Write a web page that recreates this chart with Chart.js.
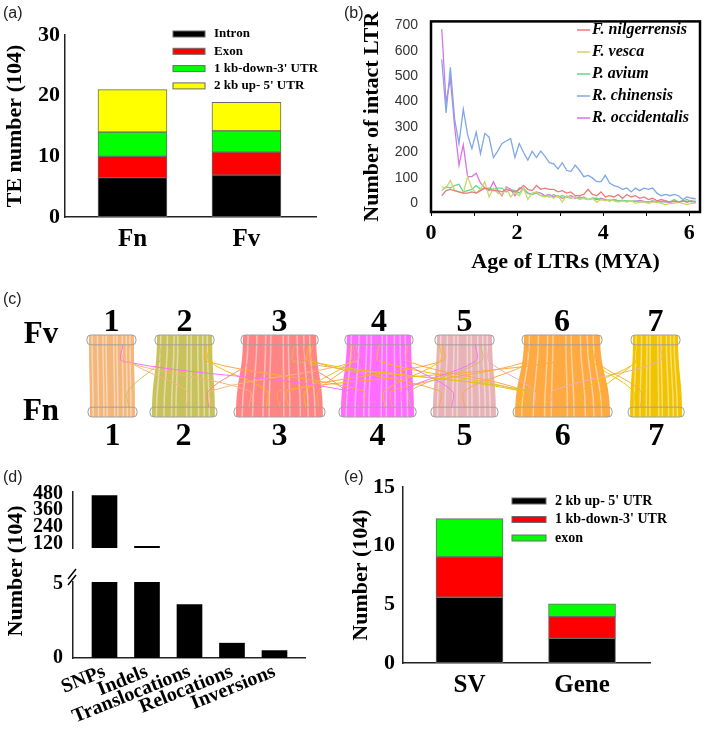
<!DOCTYPE html>
<html>
<head>
<meta charset="utf-8">
<title>TE, LTR, synteny and variant summary</title>
<script src="https://cdn.jsdelivr.net/npm/chart.js@4.4.1/dist/chart.umd.min.js"></script>
<style>
  body { margin: 0; background: #fff; }
  #page { position: relative; width: 709px; height: 732px; overflow: hidden; }
  canvas { position: absolute; }
  .tag { position: absolute; font: 16px 'Liberation Sans', Arial, sans-serif; color: #222; }
  .ytitle { position: absolute; font: bold 22px 'Liberation Serif', 'Times New Roman', serif; white-space: nowrap; transform: translate(-50%, -50%) rotate(-90deg); }
</style>
</head>
<body>
<div id="page">
  <canvas id="te-chart" width="330" height="262" style="left:0;top:0"></canvas>
  <canvas id="ltr-chart" width="359" height="285" style="left:350px;top:0"></canvas>
  <canvas id="synteny-chart" width="709" height="170" style="left:0;top:285px"></canvas>
  <canvas id="var-upper" width="330" height="100" style="left:0;top:470px"></canvas>
  <canvas id="var-lower" width="330" height="172" style="left:0;top:560px"></canvas>
  <canvas id="region-chart" width="359" height="292" style="left:350px;top:440px"></canvas>
  <div class="tag" style="left:3px;top:4px">(a)</div>
  <div class="tag" style="left:344px;top:4px">(b)</div>
  <div class="tag" style="left:3px;top:290px">(c)</div>
  <div class="tag" style="left:3px;top:468px">(d)</div>
  <div class="tag" style="left:344px;top:468px">(e)</div>
  <div class="ytitle" style="left:15px;top:571px">Number (104)</div>
</div>
<script>
const SERIF = "'Liberation Serif', 'Times New Roman', serif";

// (a) TE counts (x10^4)
const teGroups = ['Fn', 'Fv'];
const teIntron = [6.5, 6.9];
const teExon = [3.5, 3.8];
const teDown3 = [4.0, 3.5];
const teUp5 = [7.0, 4.7];
const teTicks = [0, 10, 20, 30];

// (b) LTR insertion age
const ageMya = [
  0.25, 0.35, 0.45, 0.55, 0.65, 0.75, 0.85, 0.95, 1.05, 1.15,
  1.25, 1.35, 1.45, 1.55, 1.65, 1.75, 1.85, 1.95, 2.05, 2.15,
  2.25, 2.35, 2.45, 2.55, 2.65, 2.75, 2.85, 2.95, 3.05, 3.15,
  3.25, 3.35, 3.45, 3.55, 3.65, 3.75, 3.85, 3.95, 4.05, 4.15,
  4.25, 4.35, 4.45, 4.55, 4.65, 4.75, 4.85, 4.95, 5.05, 5.15,
  5.25, 5.35, 5.45, 5.55, 5.65, 5.75, 5.85, 5.95, 6.05, 6.15
];
const ltrNilgerrensis = [
  30, 50, 55, 50, 45, 40, 40, 45, 40, 50,
  60, 55, 50, 50, 45, 55, 50, 45, 55, 70,
  55, 50, 70, 55, 60, 55, 55, 45, 50, 40,
  45, 30, 30, 35, 55, 35, 30, 45, 25, 30,
  25, 35, 20, 35, 25, 30, 20, 25, 15, 20,
  10, 15, 10, 5, 10, 5, 10, 5, 10, 5
];
const ltrVesca = [
  65, 60, 90, 50, 45, 40, 105, 60, 40, 55,
  85, 25, 60, 40, 35, 60, 25, 45, 30, 60,
  15, 40, 45, 30, 25, 30, 20, 30, 5, 30,
  20, 25, 15, 20, 15, 20, 5, 15, 10, 15,
  10, 5, 10, 5, 10, 0, 5, 5, 0, 5,
  5, 0, -5, 0, 0, 5, 0, -5, 0, 0
];
const ltrAvium = [
  50, 65, 60, 70, 75, 45, 50, 55, 70, 55,
  60, 60, 55, 60, 60, 45, 55, 50, 40, 60,
  40, 35, 40, 30, 30, 25, 35, 25, 30, 25,
  20, 25, 20, 25, 15, 20, 20, 15, 15, 10,
  15, 10, 12, 10, 8, 10, 5, 8, 5, 10,
  5, 5, 10, 5, 15, 5, 10, 15, 5, 10
];
const ltrChinensis = [
  565, 355, 535, 330, 235, 370, 270, 215, 280, 195,
  275, 260, 180, 205, 235, 245, 255, 180, 235, 200,
  170, 205, 180, 205, 185, 160, 155, 135, 160, 130,
  125, 150, 130, 105, 110, 100, 85, 85, 110, 80,
  70, 65, 55, 60, 45, 60, 50, 60, 55, 60,
  40, 30, 35, 30, 35, 30, 15, 25, 20, 18
];
const ltrOccidentalis = [
  685, 395, 490, 300, 150, 230, 105, 105, 118, 80,
  60, 50, 85, 50, 30, 65, 55, 30, 60, 55,
  40, 35, 45, 40, 30, 35, 25, 30, 20, 25,
  30, 20, 25, 20, 15, 20, 15, 20, 15, 10,
  15, 10, 12, 8, 10, 8, 12, 8, 5, 10,
  5, 8, 5, 5, 8, 5, 10, 5, 10, 5
];
const ltrYTicks = [0, 100, 200, 300, 400, 500, 600, 700];
const ltrXTicks = [0, 1, 2, 3, 4, 5, 6];

// (c) chromosome blocks (Mb on a shared layout axis) and cross links
const chrNames = ['1', '2', '3', '4', '5', '6', '7'];
const chrColors = ['#f4b67a', '#c9c25c', '#ff8585', '#ff6cff', '#e8b3b6', '#ffa942', '#f2c300'];
const fvStartMb = [0, 37.8, 85.6, 143.3, 193.3, 241.7, 302.2];
const fvLenMb = [25, 30.6, 40.6, 35.6, 30.6, 42.2, 25];
const fnStartMb = [0.6, 35, 81.7, 140, 191.1, 236.7, 300.6];
const fnLenMb = [25, 35, 48.3, 40.6, 35, 52.8, 28.9];
const stripeFrac = [0.07, 0.19, 0.31, 0.38, 0.55, 0.62, 0.74, 0.83, 0.91];
const linkFvChr = [0, 0, 0, 1, 1, 1, 2, 2, 2, 2, 2, 3, 3, 3, 3, 3, 4, 4, 4, 4, 4, 5, 5, 5, 5, 6, 6, 6, 5, 3];
const linkFvPos = [0.80, 0.90, 0.75, 0.05, 0.95, 0.90, 0.10, 0.85, 0.95, 0.90, 0.70, 0.05, 0.10, 0.15, 0.90,
                   0.95, 0.05, 0.10, 0.70, 0.80, 0.95, 0.05, 0.10, 0.50, 0.90, 0.05, 0.10, 0.60, 0.95, 0.50];
const linkFnChr = [2, 1, 3, 0, 2, 3, 1, 3, 4, 5, 5, 2, 2, 1, 4, 5, 3, 2, 3, 3, 5, 3, 4, 2, 6, 5, 5, 5, 6, 5];
const linkFnPos = [0.15, 0.55, 0.10, 0.85, 0.35, 0.30, 0.90, 0.05, 0.10, 0.05, 0.15, 0.80, 0.95, 0.95, 0.30,
                   0.10, 0.60, 0.60, 0.85, 0.95, 0.20, 0.70, 0.50, 0.50, 0.05, 0.90, 0.70, 0.40, 0.20, 0.05];
const linkColor = [0, 0, 3, 1, 6, 5, 2, 2, 5, 6, 1, 6, 5, 0, 3, 5, 6, 5, 3, 1, 4, 5, 5, 5, 6, 6, 6, 4, 5, 6];

// (d) variant counts (x10^4)
const varTypes = ['SNPs', 'Indels', 'Translocations', 'Relocations', 'Inversions'];
const varCounts = [465, 101, 3.6, 1.0, 0.5];
const varUpperTicks = [120, 240, 360, 480];
const varLowerTicks = [0, 5];

// (e) SV / gene region counts (x10^4)
const regionGroups = ['SV', 'Gene'];
const regionUp5 = [5.6, 2.1];
const regionDown3 = [3.45, 1.85];
const regionExon = [3.25, 1.1];
const regionTicks = [0, 5, 10, 15];

Chart.defaults.font.family = SERIF;
Chart.defaults.color = '#000';
Chart.defaults.animation = false;
Chart.defaults.responsive = false;
Chart.defaults.plugins.legend.display = false;
Chart.defaults.plugins.tooltip.enabled = false;

const toPoints = vals => vals.map((y, i) => ({ x: i, y }));
const fixTicks = values => scale => { scale.ticks = values.map(v => ({ value: v })); };
const fixWidth = w => scale => { scale.width = w; };
const fixHeight = h => scale => { scale.height = h; };
const axisBorder = { color: '#222', width: 1.5 };
const noGrid = { display: false, drawTicks: false, offset: false };

// legend drawn at a fixed spot inside the panel
const swatchLegend = {
  id: 'swatchLegend',
  afterDraw(chart, args, opts) {
    if (opts.x === undefined) return;
    const ctx = chart.ctx;
    ctx.save();
    ctx.font = opts.font;
    ctx.textBaseline = 'middle';
    chart.data.datasets.forEach((ds, i) => {
      const y = opts.y + i * opts.dy;
      if (opts.kind === 'line') {
        ctx.strokeStyle = ds.borderColor;
        ctx.lineWidth = 1.5;
        ctx.beginPath();
        ctx.moveTo(opts.x, y);
        ctx.lineTo(opts.x + opts.w, y);
        ctx.stroke();
      } else {
        ctx.fillStyle = ds.backgroundColor;
        ctx.fillRect(opts.x, y - opts.h / 2, opts.w, opts.h);
        ctx.strokeStyle = '#6b6b6b';
        ctx.lineWidth = 1;
        ctx.strokeRect(opts.x, y - opts.h / 2, opts.w, opts.h);
      }
      ctx.fillStyle = '#000';
      ctx.fillText(ds.label, opts.textX, y);
    });
    ctx.restore();
  }
};

const plotFrame = {
  id: 'plotFrame',
  afterDraw(chart) {
    const { ctx, chartArea: a } = chart;
    ctx.save();
    ctx.strokeStyle = '#000';
    ctx.lineWidth = 2.5;
    ctx.strokeRect(a.left, a.top, a.right - a.left, a.bottom - a.top);
    ctx.restore();
  }
};

function stackedBarOptions(cfg) {
  return {
    layout: { padding: { top: cfg.top, right: cfg.right } },
    scales: {
      x: {
        type: 'linear', stacked: true, offset: false, min: cfg.xMin, max: cfg.xMax,
        afterBuildTicks: fixTicks(cfg.groups.map((g, i) => i)),
        afterFit: fixHeight(cfg.xHeight),
        grid: noGrid, border: axisBorder,
        ticks: { callback: v => cfg.groups[v], font: { size: 25, weight: 'bold' }, padding: 8, autoSkip: false }
      },
      y: {
        stacked: true, min: 0, max: cfg.yMax,
        afterBuildTicks: fixTicks(cfg.yTicks),
        afterFit: fixWidth(cfg.yWidth),
        grid: noGrid, border: axisBorder,
        ticks: { font: { size: 22, weight: 'bold' }, padding: cfg.tickPad, autoSkip: false },
        title: { display: true, text: cfg.title, font: { size: 22, weight: 'bold', lineHeight: 1 }, padding: { top: cfg.titlePad } }
      }
    },
    plugins: { swatchLegend: cfg.legend }
  };
}

const barStyle = thickness => ds => ({ ...ds, borderColor: '#6b6b6b', borderWidth: 1, barThickness: thickness, borderSkipped: false });

// (a)
new Chart(document.getElementById('te-chart'), {
  type: 'bar',
  data: {
    datasets: [
      { label: 'Intron', data: toPoints(teIntron), backgroundColor: '#000000' },
      { label: 'Exon', data: toPoints(teExon), backgroundColor: '#ff0000' },
      { label: "1 kb-down-3' UTR", data: toPoints(teDown3), backgroundColor: '#00ff00' },
      { label: "2 kb up- 5' UTR", data: toPoints(teUp5), backgroundColor: '#ffff00' }
    ].map(barStyle(69))
  },
  options: stackedBarOptions({
    top: 35, right: 14, xMin: -0.592, xMax: 1.61, groups: teGroups, xHeight: 45,
    yMax: 30, yTicks: teTicks, yWidth: 65, tickPad: 5, title: 'TE number (104)', titlePad: 4,
    legend: { x: 173, y: 34, dy: 17.3, w: 32, h: 6, textX: 214, font: 'bold 13px ' + SERIF }
  }),
  plugins: [swatchLegend]
});

// (b)
const ltrSeries = [
  ['F. nilgerrensis', ltrNilgerrensis, '#ec7b7b'],
  ['F. vesca', ltrVesca, '#cdd768'],
  ['P. avium', ltrAvium, '#62d98f'],
  ['R. chinensis', ltrChinensis, '#7ea8e6'],
  ['R. occidentalis', ltrOccidentalis, '#d874e8']
];
new Chart(document.getElementById('ltr-chart'), {
  type: 'line',
  data: {
    datasets: ltrSeries.map(([label, vals, color]) => ({
      label,
      data: ageMya.map((x, i) => ({ x, y: vals[i] })),
      borderColor: color, borderWidth: 1.3, pointRadius: 0, tension: 0
    }))
  },
  options: {
    layout: { padding: { top: 14, right: 9 } },
    scales: {
      x: {
        type: 'linear', min: 0, max: 6.25,
        afterBuildTicks: fixTicks(ltrXTicks), afterFit: fixHeight(73),
        grid: { drawOnChartArea: false, tickLength: 4, color: '#000' },
        border: { display: false },
        ticks: { callback: v => (v % 2 === 0 ? String(v) : ''), font: { size: 22, weight: 'bold' }, padding: 4, autoSkip: false },
        title: { display: true, text: 'Age of LTRs (MYA)', font: { size: 22, weight: 'bold', lineHeight: 1 }, padding: { bottom: 12 } }
      },
      y: {
        min: -34, max: 715,
        afterBuildTicks: fixTicks(ltrYTicks), afterFit: fixWidth(81),
        grid: noGrid, border: { display: false },
        ticks: { font: { family: "'Liberation Sans Narrow', 'Liberation Sans', sans-serif", size: 14 }, color: '#333', padding: 13, autoSkip: false },
        title: { display: true, text: 'Number of intact LTR', font: { size: 22, weight: 'bold', lineHeight: 1 }, padding: { top: 11 } }
      }
    },
    plugins: { swatchLegend: { kind: 'line', x: 227, y: 30, dy: 22, w: 13, textX: 242, font: 'italic bold 16px ' + SERIF } }
  },
  plugins: [plotFrame, swatchLegend]
});

// (c)
const syntenyPlot = {
  id: 'syntenyPlot',
  beforeDatasetsDraw(chart) {
    const { ctx, scales: { x, y } } = chart;
    const yt = y.getPixelForValue(1), yb = y.getPixelForValue(0), ym = y.getPixelForValue(0.5);
    ctx.save();
    chrNames.forEach((name, i) => {
      const a1 = x.getPixelForValue(fvStartMb[i]), a2 = x.getPixelForValue(fvStartMb[i] + fvLenMb[i]);
      const b1 = x.getPixelForValue(fnStartMb[i]), b2 = x.getPixelForValue(fnStartMb[i] + fnLenMb[i]);
      ctx.beginPath();
      ctx.moveTo(a1, yt);
      ctx.lineTo(a2, yt);
      ctx.bezierCurveTo(a2, ym, b2, ym, b2, yb);
      ctx.lineTo(b1, yb);
      ctx.bezierCurveTo(b1, ym, a1, ym, a1, yt);
      ctx.closePath();
      ctx.fillStyle = chrColors[i];
      ctx.fill();
      // lighter gaps between collinear blocks
      ctx.strokeStyle = 'rgba(255,255,255,0.45)';
      ctx.lineWidth = 1.5;
      stripeFrac.forEach(f => {
        const a = a1 + (a2 - a1) * f, b = b1 + (b2 - b1) * f;
        ctx.beginPath();
        ctx.moveTo(a, yt);
        ctx.bezierCurveTo(a, ym, b, ym, b, yb);
        ctx.stroke();
      });
    });
    ctx.restore();
  },
  afterDraw(chart) {
    const { ctx, scales: { x, y } } = chart;
    const yt = y.getPixelForValue(1), yb = y.getPixelForValue(0);
    ctx.save();
    ctx.strokeStyle = '#a0a0a0';
    ctx.lineWidth = 1;
    const bar = (l, r, top, bottom) => {
      ctx.beginPath();
      ctx.roundRect(l - 2, top, r - l + 4, bottom - top, 4);
      ctx.stroke();
    };
    chrNames.forEach((name, i) => {
      bar(x.getPixelForValue(fvStartMb[i]), x.getPixelForValue(fvStartMb[i] + fvLenMb[i]), yt, y.getPixelForValue(0.88));
      bar(x.getPixelForValue(fnStartMb[i]), x.getPixelForValue(fnStartMb[i] + fnLenMb[i]), y.getPixelForValue(0.12), yb);
    });
    ctx.fillStyle = '#000';
    ctx.textAlign = 'center';
    ctx.textBaseline = 'alphabetic';
    ctx.font = 'bold 32px ' + SERIF;
    chrNames.forEach((name, i) => {
      ctx.fillText(name, x.getPixelForValue(fvStartMb[i] + fvLenMb[i] / 2), yt - 4);
      ctx.fillText(name, x.getPixelForValue(fnStartMb[i] + fnLenMb[i] / 2), yb + 28);
    });
    ctx.font = 'bold 31px ' + SERIF;
    ctx.fillText('Fv', 41, yt + 8);
    ctx.fillText('Fn', 41, yb + 3);
    ctx.restore();
  }
};
new Chart(document.getElementById('synteny-chart'), {
  type: 'line',
  data: {
    datasets: linkFvChr.map((c, k) => {
      const a = fvStartMb[c] + fvLenMb[c] * linkFvPos[k];
      const t = linkFnChr[k];
      const b = fnStartMb[t] + fnLenMb[t] * linkFnPos[k];
      return {
        data: [{ x: a, y: 0.88 }, { x: a, y: 0.68 }, { x: b, y: 0.32 }, { x: b, y: 0.12 }],
        borderColor: chrColors[linkColor[k]], borderWidth: 1, pointRadius: 0, tension: 0.35
      };
    })
  },
  options: {
    layout: { padding: { top: 50, bottom: 38 } },
    scales: {
      x: { type: 'linear', display: false, min: -49.4, max: 344.4 },
      y: { display: false, min: 0, max: 1 }
    }
  },
  plugins: [syntenyPlot]
});

// (d) broken axis: two charts sharing the category positions
const varX = { type: 'linear', offset: false, min: -0.741, max: 4.718 };
const varBars = () => [{ data: toPoints(varCounts), backgroundColor: '#000', barThickness: 25, clip: 0 }];
new Chart(document.getElementById('var-upper'), {
  type: 'bar',
  data: { datasets: varBars() },
  options: {
    layout: { padding: { top: 20, right: 25, bottom: 2 } },
    scales: {
      x: { ...varX, display: false },
      y: {
        min: 89, max: 490,
        afterBuildTicks: fixTicks(varUpperTicks), afterFit: fixWidth(73),
        grid: noGrid, border: axisBorder,
        ticks: { font: { size: 20, weight: 'bold' }, padding: 10, autoSkip: false }
      }
    }
  }
});

const axisBreak = {
  id: 'axisBreak',
  afterDraw(chart) {
    const { ctx, chartArea: a } = chart;
    ctx.save();
    ctx.strokeStyle = '#000';
    ctx.lineWidth = 1.5;
    [0, 6].forEach(d => {
      ctx.beginPath();
      ctx.moveTo(a.left - 5, a.top + 3 - d);
      ctx.lineTo(a.left + 3, a.top - 7 - d);
      ctx.stroke();
    });
    ctx.restore();
  }
};
new Chart(document.getElementById('var-lower'), {
  type: 'bar',
  data: { datasets: varBars() },
  options: {
    layout: { padding: { top: 18, right: 25 } },
    scales: {
      x: {
        ...varX,
        afterBuildTicks: fixTicks(varTypes.map((t, i) => i)), afterFit: fixHeight(74),
        grid: noGrid, border: axisBorder,
        ticks: { callback: v => varTypes[v], font: { size: 20, weight: 'bold' }, padding: 2, minRotation: 22, maxRotation: 22, autoSkip: false }
      },
      y: {
        min: 0, max: 5.13,
        afterBuildTicks: fixTicks(varLowerTicks), afterFit: fixWidth(73),
        grid: noGrid, border: axisBorder,
        ticks: { font: { size: 20, weight: 'bold' }, padding: 10, autoSkip: false }
      }
    }
  },
  plugins: [axisBreak]
});

// (e)
new Chart(document.getElementById('region-chart'), {
  type: 'bar',
  data: {
    datasets: [
      { label: "2 kb up- 5' UTR", data: toPoints(regionUp5), backgroundColor: '#000000' },
      { label: "1 kb-down-3' UTR", data: toPoints(regionDown3), backgroundColor: '#ff0000' },
      { label: 'exon', data: toPoints(regionExon), backgroundColor: '#00ff00' }
    ].map(barStyle(67))
  },
  options: stackedBarOptions({
    top: 47, right: 59, xMin: -0.591, xMax: 1.604, groups: regionGroups, xHeight: 69,
    yMax: 15, yTicks: regionTicks, yWidth: 53, tickPad: 8, title: 'Number (104)', titlePad: 0,
    legend: { x: 162, y: 61, dy: 18.5, w: 34, h: 6, textX: 205, font: 'bold 14px ' + SERIF }
  }),
  plugins: [swatchLegend]
});
</script>
</body>
</html>
